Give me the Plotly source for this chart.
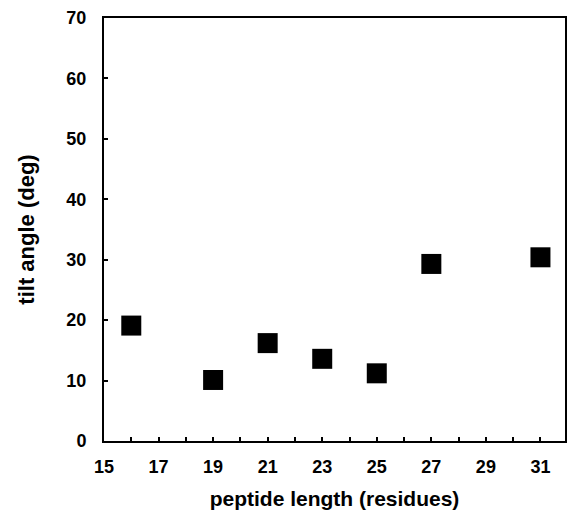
import plotly.graph_objects as go

peptide_length = [16, 19, 21, 23, 25, 27, 31]
tilt_angle = [19.1, 10.1, 16.2, 13.6, 11.2, 29.3, 30.4]

x_ticks = [15, 17, 19, 21, 23, 25, 27, 29, 31]
y_ticks = [0, 10, 20, 30, 40, 50, 60, 70]

font_family = "Liberation Sans, Arial, sans-serif"

fig = go.Figure()
fig.add_trace(go.Scatter(
    x=peptide_length, y=tilt_angle, mode="markers",
    marker=dict(symbol="square", size=20, color="black", line=dict(width=0)),
    showlegend=False,
))

fig.update_layout(
    width=569, height=512,
    margin=dict(l=104, r=2, t=18, b=71),
    paper_bgcolor="white", plot_bgcolor="white",
    font=dict(family=font_family, color="black"),
)
fig.update_xaxes(
    range=[15, 31.9], tickvals=x_ticks, ticktext=[str(v) for v in x_ticks],
    showgrid=False, zeroline=False,
    showline=True, linecolor="black", linewidth=2, mirror=True,
    ticks="inside", ticklen=4, tickwidth=2, tickcolor="black",
    minor=dict(tickvals=[16, 18, 20, 22, 24, 26, 28, 30], ticks="inside", ticklen=4, tickwidth=2, tickcolor="black"),
    tickfont=dict(size=18, family=font_family, weight="bold"),
    ticklabelstandoff=8,
    title=dict(text="<b>peptide length (residues)</b>", font=dict(size=21), standoff=16),
)
fig.update_yaxes(
    range=[0, 70], tickvals=y_ticks, ticktext=[str(v) for v in y_ticks],
    showgrid=False, zeroline=False,
    showline=True, linecolor="black", linewidth=2, mirror=True,
    ticks="inside", ticklen=4, tickwidth=2, tickcolor="black",
    tickfont=dict(size=18, family=font_family, weight="bold"),
    ticklabelstandoff=12,
    title=dict(text="<b>tilt angle (deg)</b>", font=dict(size=22), standoff=26),
)

fig.write_html("out.html")
